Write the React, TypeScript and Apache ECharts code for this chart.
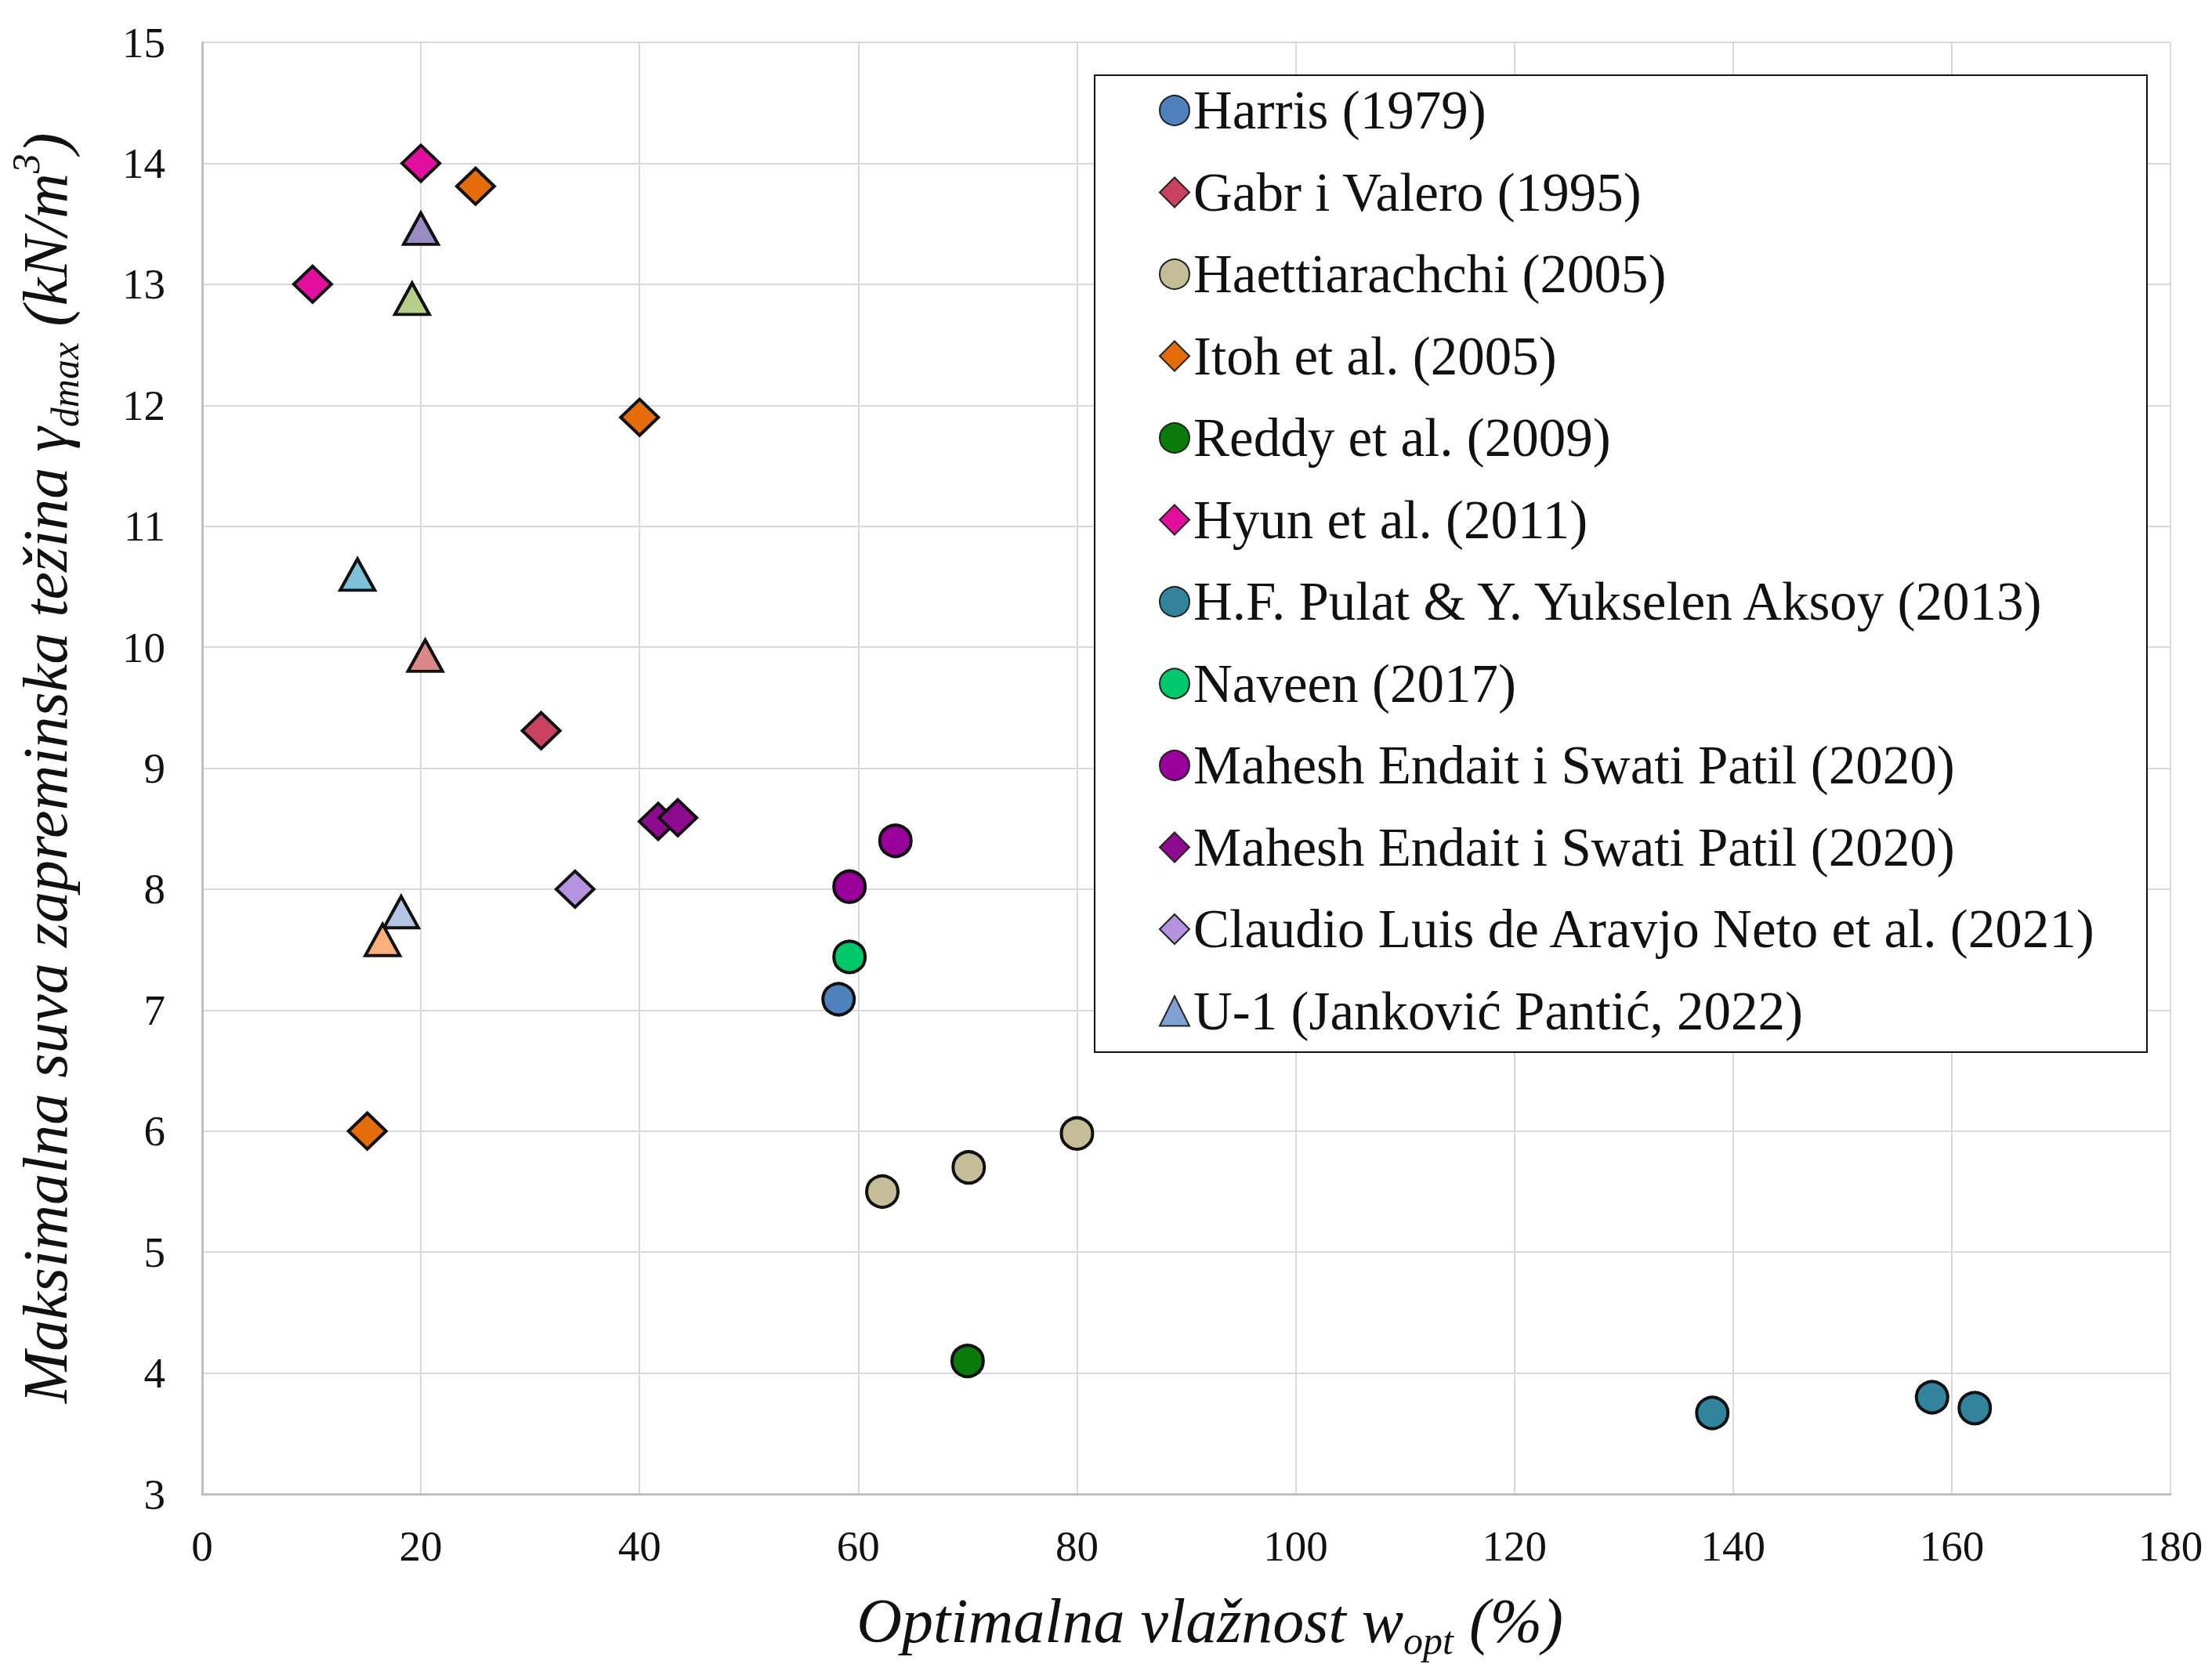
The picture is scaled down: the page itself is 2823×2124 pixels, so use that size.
import React, { useEffect, useRef } from "react";
import * as echarts from "echarts";

// ---------- data ----------
const xTicksMin = 0;
const xTicksMax = 180;
const xTickStep = 20;
const yTicksMin = 3;
const yTicksMax = 15;
const yTickStep = 1;

const harrisX = [58.2];
const harrisY = [7.09];

const gabrX = [31.0];
const gabrY = [9.31];

const haettX = [62.2, 70.1, 80.0];
const haettY = [5.5, 5.7, 5.98];

const itohX = [25.0, 40.0, 15.1];
const itohY = [13.81, 11.9, 6.0];

const reddyX = [70.0];
const reddyY = [4.1];

const hyunX = [20.0, 10.1];
const hyunY = [14.0, 13.0];

const pulatX = [138.1, 158.2, 162.1];
const pulatY = [3.67, 3.8, 3.71];

const naveenX = [59.2];
const naveenY = [7.44];

const maheshCircleX = [59.2, 63.4];
const maheshCircleY = [8.02, 8.4];

const maheshDiamondX = [41.7, 43.5];
const maheshDiamondY = [8.56, 8.59];

const claudioX = [34.1];
const claudioY = [8.0];

const u1X = [20.0, 19.2, 14.2, 20.4, 18.2, 16.5];
const u1Y = [13.46, 12.88, 10.6, 9.93, 7.81, 7.58];

const seriesNames = [
  "Harris (1979)",
  "Gabr i Valero (1995)",
  "Haettiarachchi (2005)",
  "Itoh et al. (2005)",
  "Reddy et al. (2009)",
  "Hyun et al. (2011)",
  "H.F. Pulat & Y. Yukselen Aksoy (2013)",
  "Naveen (2017)",
  "Mahesh Endait i Swati Patil (2020)",
  "Mahesh Endait i Swati Patil (2020) ",
  "Claudio Luis de Aravjo Neto et al. (2021)",
  "U-1 (Janković Pantić, 2022)",
];

// ---------- styles ----------
const seriesColors = [
  "#4f81bd",
  "#c9425e",
  "#c4bd97",
  "#e46c0a",
  "#0a7a0a",
  "#e20e9e",
  "#31849b",
  "#00c86a",
  "#990099",
  "#8e0a8e",
  "#b592e0",
  "#7fa0d0",
];
const u1PointColors = ["#9a8cc2", "#b5cf8a", "#7dc1d9", "#d98888", "#b3c4e4", "#f9b07c"];

const FONT = "Liberation Serif";

const zip = (xs: number[], ys: number[]) => xs.map((x, i) => [x, ys[i]]);

export default function App() {
  const ref = useRef<HTMLDivElement>(null);

  useEffect(() => {
    document.body.style.margin = "0";
    if (!ref.current) return;
    const chart = echarts.init(ref.current, null, { renderer: "svg" });

    const circle = "circle";
    const diamond = "diamond";
    const triangle = "triangle";
    const circleSize = 40;
    const diamondSize = [48, 46];
    const triangleSize = [44, 40];

    const defs: { x: number[]; y: number[]; symbol: string; size: any }[] = [
      { x: harrisX, y: harrisY, symbol: circle, size: circleSize },
      { x: gabrX, y: gabrY, symbol: diamond, size: diamondSize },
      { x: haettX, y: haettY, symbol: circle, size: circleSize },
      { x: itohX, y: itohY, symbol: diamond, size: diamondSize },
      { x: reddyX, y: reddyY, symbol: circle, size: circleSize },
      { x: hyunX, y: hyunY, symbol: diamond, size: diamondSize },
      { x: pulatX, y: pulatY, symbol: circle, size: circleSize },
      { x: naveenX, y: naveenY, symbol: circle, size: circleSize },
      { x: maheshCircleX, y: maheshCircleY, symbol: circle, size: circleSize },
      { x: maheshDiamondX, y: maheshDiamondY, symbol: diamond, size: diamondSize },
      { x: claudioX, y: claudioY, symbol: diamond, size: diamondSize },
      { x: u1X, y: u1Y, symbol: triangle, size: triangleSize },
    ];

    const series = defs.map((d, i) => {
      let data: any[] = zip(d.x, d.y);
      if (i === defs.length - 1) {
        data = data.map((p, k) => ({ value: p, itemStyle: { color: u1PointColors[k] } }));
      }
      return {
        type: "scatter",
        name: seriesNames[i],
        symbol: d.symbol,
        symbolSize: d.size,
        itemStyle: { color: seriesColors[i], borderColor: "#111", borderWidth: 4, opacity: 1 },
        emphasis: { disabled: true },
        data,
      };
    });

    const mainStyle = { fontFamily: FONT, fontStyle: "italic", fontSize: 80, lineHeight: 100, color: "#111" };
    const subStyle = { fontFamily: FONT, fontStyle: "italic", fontSize: 50, lineHeight: 50, verticalAlign: "bottom", color: "#111" };
    const supStyle = { fontFamily: FONT, fontStyle: "italic", fontSize: 50, lineHeight: 70, verticalAlign: "top", color: "#111" };

    chart.setOption({
      animation: false,
      backgroundColor: "#ffffff",
      grid: { left: 257, top: 54, right: 53, bottom: 205, containLabel: false },
      xAxis: {
        type: "value",
        min: xTicksMin,
        max: xTicksMax,
        interval: xTickStep,
        name: "{m|Optimalna vlažnost w}{s|opt}{m| (%)}",
        nameLocation: "middle",
        nameGap: 112,
        nameTextStyle: { padding: [0, 0, 0, 60], rich: { m: mainStyle, s: subStyle } },
        axisLine: { show: true, lineStyle: { color: "#bfbfbf", width: 3 } },
        axisTick: { show: false },
        axisLabel: { fontFamily: FONT, fontSize: 55, color: "#111", margin: 39 },
        splitLine: { show: true, lineStyle: { color: "#d9d9d9", width: 2 } },
      },
      yAxis: {
        type: "value",
        min: yTicksMin,
        max: yTicksMax,
        interval: yTickStep,
        name: "{m|Maksimalna suva zapreminska težina γ}{s|dmax}{m| (kN/m}{p|3}{m|)}",
        nameLocation: "middle",
        nameRotate: 90,
        nameGap: 150,
        nameTextStyle: { rich: { m: mainStyle, s: subStyle, p: supStyle } },
        axisLine: { show: true, lineStyle: { color: "#bfbfbf", width: 3 } },
        axisTick: { show: false },
        axisLabel: { fontFamily: FONT, fontSize: 55, color: "#111", margin: 47 },
        splitLine: { show: true, lineStyle: { color: "#d9d9d9", width: 2 } },
      },
      legend: {
        orient: "vertical",
        left: 1474,
        top: 101,
        itemWidth: 38,
        itemHeight: 38,
        itemGap: 34.5,
        selectedMode: false,
        textStyle: { fontFamily: FONT, fontSize: 69, color: "#111", lineHeight: 70 },
        itemStyle: { borderWidth: 2, borderColor: "#222" },
        formatter: (n: string) => n.trim(),
        data: seriesNames,
        z: 5,
      },
      graphic: [
        {
          type: "rect",
          z: 3,
          shape: { x: 1397, y: 96, width: 1343, height: 1247 },
          style: { fill: "#ffffff", stroke: "#111", lineWidth: 2 },
        },
      ],
      series,
    });

    return () => chart.dispose();
  }, []);

  return <div ref={ref} style={{ width: 2823, height: 2124 }} />;
}
